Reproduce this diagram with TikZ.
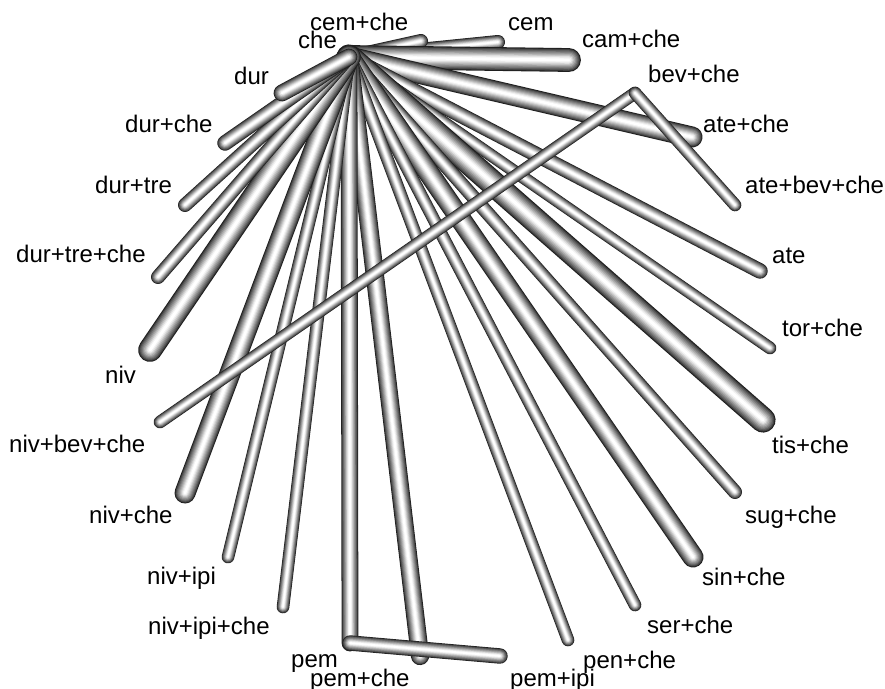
\documentclass[tikz,border=0pt]{standalone}
\usepackage{fontspec}
\setmainfont{Liberation Sans}
\newcommand\drawtube[3]{%
  \foreach \f/\p in {1.00/88,0.91/74,0.82/63,0.72/53,0.62/43,0.52/33,0.42/23,0.32/13,0.22/5,0.12/0}{%
    \draw[line width={#3*\f*1.4pt}, black!\p, line cap=round] (#1) -- (#2);
  }%
}
\tikzset{lbl/.style={font=\fontsize{24}{28}\selectfont, anchor=base west, inner sep=0pt, text=black}}
\begin{document}
\begin{tikzpicture}[x=1pt,y=-1pt]
\useasboundingbox (0,0) rectangle (885,688);
% vertices
\coordinate (che) at (349,57);
\coordinate (cemche) at (421,41);
\coordinate (cem) at (498,42);
\coordinate (camche) at (569,60);
\coordinate (bevche) at (635,93);
\coordinate (ateche) at (692,137);
\coordinate (atebevche) at (735,205);
\coordinate (ate) at (760,271);
\coordinate (torche) at (770,348);
\coordinate (tische) at (763,420);
\coordinate (sugche) at (735,492);
\coordinate (sinche) at (693,557);
\coordinate (serche) at (635,605);
\coordinate (penche) at (568,640);
\coordinate (pemipi) at (500,656);
\coordinate (pemche) at (420,656);
\coordinate (pem) at (350,643);
\coordinate (nivipiche) at (283,607);
\coordinate (nivipi) at (228,557);
\coordinate (nivche) at (185,493);
\coordinate (nivbevche) at (160,422);
\coordinate (niv) at (150,350);
\coordinate (durtreche) at (158,277);
\coordinate (durtre) at (185,205);
\coordinate (durche) at (225,143);
\coordinate (dur) at (282,93);
% edges from che
\drawtube{che}{cem}{10}
\drawtube{che}{cemche}{10}
\drawtube{che}{camche}{17}
\drawtube{che}{ateche}{15}
\drawtube{che}{ate}{11}
\drawtube{che}{torche}{9}
\drawtube{che}{tische}{18}
\drawtube{che}{sugche}{10}
\drawtube{che}{sinche}{15}
\drawtube{che}{serche}{9}
\drawtube{che}{penche}{9}
\drawtube{che}{pemche}{13}
\drawtube{che}{pem}{12}
\drawtube{che}{nivipiche}{9}
\drawtube{che}{nivipi}{9}
\drawtube{che}{nivche}{15}
\drawtube{che}{niv}{17}
\drawtube{che}{durtreche}{10}
\drawtube{che}{durtre}{10}
\drawtube{che}{durche}{11}
\drawtube{che}{dur}{12}
% other edges
\drawtube{nivbevche}{bevche}{9}
\drawtube{bevche}{atebevche}{9}
\drawtube{pem}{pemipi}{11}
% labels
\node[lbl] (l-cemche) at (310,30) {cem+che};
\node[lbl] (l-che) at (298,48) {che};
\node[lbl] (l-cem) at (508,30) {cem};
\node[lbl] (l-camche) at (582,47) {cam+che};
\node[lbl] (l-dur) at (234,84) {dur};
\node[lbl] (l-bevche) at (648,82) {bev+che};
\node[lbl] (l-durche) at (125,132) {dur+che};
\node[lbl] (l-ateche) at (703,132) {ate+che};
\node[lbl] (l-durtre) at (95,193) {dur+tre};
\node[lbl] (l-atebevche) at (745,193) {ate+bev+che};
\node[lbl] (l-durtreche) at (16,262) {dur+tre+che};
\node[lbl] (l-ate) at (772,263) {ate};
\node[lbl] (l-torche) at (782,336) {tor+che};
\node[lbl] (l-niv) at (105,383) {niv};
\node[lbl] (l-nivbevche) at (9,452) {niv+bev+che};
\node[lbl] (l-tische) at (772,453) {tis+che};
\node[lbl] (l-nivche) at (89,523) {niv+che};
\node[lbl] (l-sugche) at (745,523) {sug+che};
\node[lbl] (l-nivipi) at (147,584) {niv+ipi};
\node[lbl] (l-sinche) at (702,585) {sin+che};
\node[lbl] (l-nivipiche) at (148,634) {niv+ipi+che};
\node[lbl] (l-serche) at (647,633) {ser+che};
\node[lbl] (l-pem) at (291,667) {pem};
\node[lbl] (l-penche) at (583,668) {pen+che};
\node[lbl] (l-pemche) at (310,686) {pem+che};
\node[lbl] (l-pemipi) at (510,686) {pem+ipi};
\end{tikzpicture}
\end{document}
